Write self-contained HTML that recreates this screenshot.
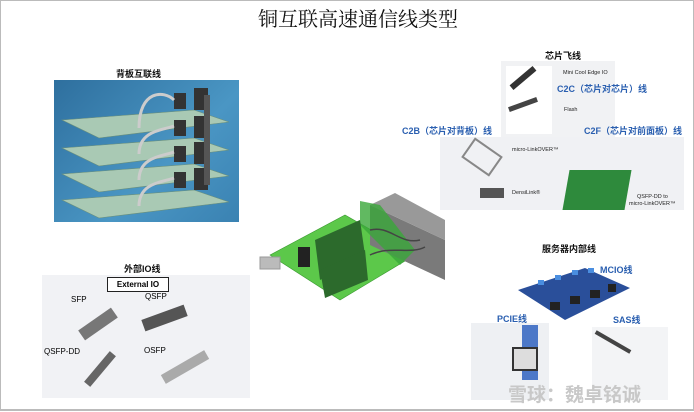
<!DOCTYPE html>
<html><head><meta charset="utf-8"><style>
body{margin:0;width:694px;height:412px;overflow:hidden;background:#fff;position:relative;font-family:"Liberation Sans","Noto Sans CJK SC",sans-serif}
.a{position:absolute}
.t{position:absolute;white-space:nowrap}
.b{font-weight:bold;font-size:9px;color:#111}
.blue{color:#2a5fb0;font-weight:bold;font-size:9px}
.s{font-size:5.5px;color:#222}
</style></head><body>
<div class="a" style="left:0;top:0;width:692px;height:408px;border:1px solid #bbb;border-bottom:2px solid #bbb"></div>
<div class="t" style="left:258px;top:3px;font-size:20px;font-family:'Liberation Serif','Noto Serif CJK SC',serif;color:#111">铜互联高速通信线类型</div>

<div class="t b" style="left:116px;top:67px">背板互联线</div>
<div class="a" style="left:54px;top:80px;width:185px;height:142px;background:linear-gradient(135deg,#2e6f9e,#4a96c4 60%,#3a82b2)"></div>
<svg class="a" style="left:54px;top:80px" width="185" height="142">
<g fill="#a9c9b4" stroke="#6a8f7a" stroke-width="0.6">
<polygon points="8,40 140,30 175,42 45,58"/><polygon points="8,68 140,58 175,70 45,86"/>
<polygon points="8,94 140,84 175,96 45,112"/><polygon points="8,120 140,110 175,122 45,138"/>
</g>
<g fill="#333"><rect x="120" y="13" width="12" height="16"/><rect x="120" y="40" width="12" height="16"/><rect x="120" y="66" width="12" height="16"/><rect x="120" y="92" width="12" height="16"/>
<rect x="140" y="8" width="14" height="22"/><rect x="140" y="36" width="14" height="22"/><rect x="140" y="62" width="14" height="22"/><rect x="140" y="88" width="14" height="22"/>
<rect x="150" y="15" width="6" height="90" fill="#555"/></g>
<path d="M85,48 C85,10 110,10 120,20 M85,74 C85,50 110,50 120,46 M85,100 C85,76 110,76 120,72 M85,126 C85,102 110,102 120,98" stroke="#ccc" stroke-width="3" fill="none"/>
</svg>

<div class="t b" style="left:545px;top:49px">芯片飞线</div>
<div class="a" style="left:501px;top:61px;width:114px;height:76px;background:#f1f2f4"></div>
<div class="a" style="left:440px;top:137px;width:244px;height:73px;background:#f0f1f4"></div>
<div class="a" style="left:506px;top:66px;width:46px;height:68px;background:#fff"></div>
<div class="a" style="left:508px;top:75px;width:30px;height:6px;background:#333;transform:rotate(-40deg)"></div>
<div class="a" style="left:508px;top:102px;width:30px;height:5px;background:#444;transform:rotate(-20deg)"></div>
<div class="t s" style="left:563px;top:70px">Mini Cool Edge IO</div>
<div class="t blue" style="left:557px;top:82px">C2C（芯片对芯片）线</div>
<div class="t s" style="left:564px;top:107px">Flash</div>
<div class="t blue" style="left:402px;top:124px">C2B（芯片对背板）线</div>
<div class="t blue" style="left:584px;top:124px">C2F（芯片对前面板）线</div>
<div class="a" style="left:465px;top:145px;width:30px;height:20px;border:2px solid #888;transform:rotate(35deg)"></div>
<div class="t s" style="left:512px;top:147px">micro-LinkOVER™</div>
<div class="a" style="left:480px;top:188px;width:24px;height:10px;background:#555"></div>
<div class="t s" style="left:512px;top:190px">DensiLink®</div>
<div class="a" style="left:566px;top:170px;width:62px;height:40px;background:#2e8a3c;transform:skewX(-10deg)"></div>
<div class="t s" style="left:637px;top:194px">QSFP-DD to</div>
<div class="t s" style="left:629px;top:201px">micro-LinkOVER™</div>

<svg class="a" style="left:250px;top:185px" width="200" height="120">
<polygon points="20,70 95,30 165,70 90,115" fill="#5cc84a" stroke="#3a9a30" stroke-width="0.6"/>
<polygon points="120,20 195,55 195,95 120,60" fill="#7a7a7a"/>
<polygon points="120,20 145,8 195,35 195,55" fill="#999"/>
<polygon points="110,16 130,20 165,65 150,80 110,40" fill="#3aa83a" opacity="0.8"/>
<polygon points="65,55 110,35 115,70 70,95" fill="#2c6a2c"/>
<polygon points="70,85 115,65 118,95 75,113" fill="#2c6a2c"/>
<rect x="48" y="62" width="12" height="20" fill="#222"/>
<rect x="10" y="72" width="20" height="12" fill="#bbb" stroke="#999"/>
<path d="M120,45 C140,40 150,60 170,55 M120,70 C140,60 160,70 175,62" stroke="#444" stroke-width="1.5" fill="none"/>
</svg>

<div class="t b" style="left:124px;top:262px">外部IO线</div>
<div class="a" style="left:42px;top:275px;width:208px;height:123px;background:#f1f2f5"></div>
<div class="a" style="left:107px;top:277px;width:60px;height:13px;border:1px solid #222;background:#fff;font-size:8px;font-weight:bold;text-align:center;line-height:13px">External IO</div>
<div class="t" style="left:71px;top:295px;font-size:8px">SFP</div>
<div class="t" style="left:145px;top:292px;font-size:8px">QSFP</div>
<div class="t" style="left:44px;top:347px;font-size:8px">QSFP-DD</div>
<div class="t" style="left:144px;top:346px;font-size:8px">OSFP</div>
<div class="a" style="left:78px;top:318px;width:40px;height:12px;background:#777;transform:rotate(-35deg)"></div>
<div class="a" style="left:142px;top:312px;width:45px;height:12px;background:#555;transform:rotate(-20deg)"></div>
<div class="a" style="left:80px;top:365px;width:40px;height:8px;background:#666;transform:rotate(-50deg)"></div>
<div class="a" style="left:160px;top:362px;width:50px;height:10px;background:#aaa;transform:rotate(-30deg)"></div>

<div class="t b" style="left:542px;top:242px">服务器内部线</div>
<svg class="a" style="left:510px;top:260px" width="125" height="65">
<polygon points="8,30 75,8 120,28 55,60" fill="#2a4f9a"/>
<g fill="#4a8ee0"><rect x="28" y="20" width="6" height="5"/><rect x="45" y="15" width="6" height="5"/><rect x="62" y="10" width="6" height="5"/><rect x="78" y="8" width="6" height="5"/></g>
<g fill="#222"><rect x="40" y="42" width="10" height="8"/><rect x="60" y="36" width="10" height="8"/><rect x="80" y="30" width="10" height="8"/><rect x="98" y="24" width="8" height="8"/></g>
</svg>
<div class="t blue" style="left:600px;top:263px">MCIO线</div>
<div class="t blue" style="left:497px;top:312px">PCIE线</div>
<div class="t blue" style="left:613px;top:313px">SAS线</div>
<div class="a" style="left:471px;top:323px;width:78px;height:77px;background:#eef0f3"></div>
<div class="a" style="left:522px;top:325px;width:16px;height:55px;background:#4c78c8"></div>
<div class="a" style="left:512px;top:347px;width:22px;height:20px;background:#ddd;border:2px solid #333"></div>
<div class="a" style="left:592px;top:327px;width:76px;height:73px;background:#f3f4f6"></div>
<div class="a" style="left:593px;top:340px;width:40px;height:4px;background:#444;transform:rotate(30deg)"></div>
<div class="t" style="left:508px;top:380px;font-size:19px;color:#c8c8c8;font-weight:bold">雪球：魏卓铭诚</div>
</body></html>
